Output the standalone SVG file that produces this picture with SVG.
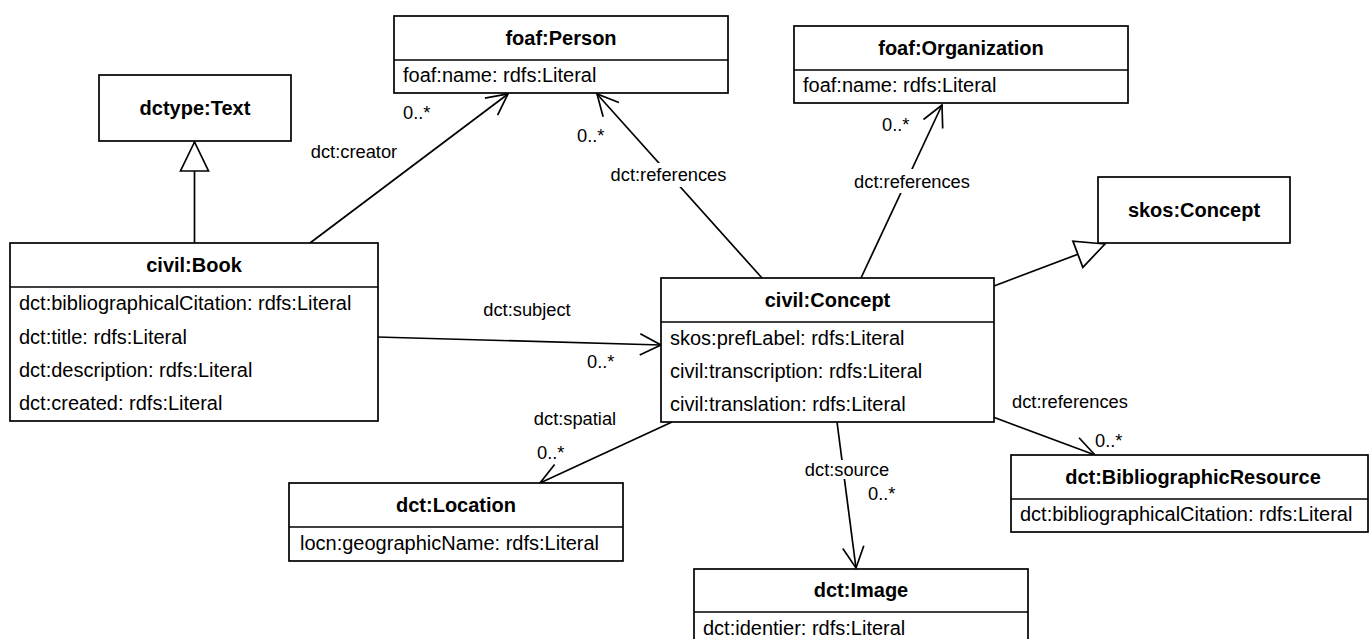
<svg xmlns="http://www.w3.org/2000/svg" width="1369" height="639" viewBox="0 0 1369 639">
<style>
.box{fill:#fff;stroke:#000;stroke-width:1.7}
.sep{stroke:#000;stroke-width:1.7}
.title{font-family:"Liberation Sans",Arial,sans-serif;font-size:20px;font-weight:bold;text-anchor:middle;fill:#000}
.attr{font-family:"Liberation Sans",Arial,sans-serif;font-size:20px;fill:#000}
.lbl{font-family:"Liberation Sans",Arial,sans-serif;font-size:18.3px;fill:#000}
.mid{text-anchor:middle}
.edge{fill:none;stroke:#000;stroke-width:1.7}
.assoc{marker-end:url(#open)}
.gen{marker-end:url(#tri)}
.bg{fill:#fff;stroke:none}
</style>
<defs>
<marker id="open" markerUnits="userSpaceOnUse" markerWidth="30" markerHeight="30" viewBox="-25 -15 30 30" refX="0" refY="0" orient="auto" overflow="visible">
<path d="M-21,-10.6 L0,0 L-21,10.6" fill="none" stroke="#000" stroke-width="1.7"/>
</marker>
<marker id="tri" markerUnits="userSpaceOnUse" markerWidth="40" markerHeight="40" viewBox="-35 -20 40 40" refX="0" refY="0" orient="auto" overflow="visible">
<path d="M0,0 L-29,-14 L-29,14 Z" fill="#fff" stroke="#000" stroke-width="1.7"/>
</marker>
</defs>
<rect width="1369" height="639" fill="#fff"/>

<g id="connectors">
<line class="edge gen" x1="194.5" y1="243" x2="194.5" y2="142"/>
<line class="edge gen" x1="994" y1="286" x2="1105" y2="244"/>
<line class="edge assoc" x1="310" y1="243" x2="508" y2="94"/>
<line class="edge assoc" x1="762" y1="278" x2="597" y2="94"/>
<line class="edge assoc" x1="861" y1="278" x2="942" y2="105"/>
<line class="edge assoc" x1="377" y1="337" x2="661" y2="345"/>
<line class="edge assoc" x1="672" y1="422" x2="540" y2="483"/>
<line class="edge assoc" x1="837" y1="422" x2="856" y2="568"/>
<line class="edge assoc" x1="993" y1="417" x2="1095" y2="455"/>
<rect class="bg" x="609" y="163" width="120" height="24"/>
<rect class="bg" x="853" y="169" width="118" height="24"/>
<rect class="bg" x="803" y="460" width="88" height="19"/>
<text class="lbl mid" x="354" y="158">dct:creator</text>
<text class="lbl" x="403" y="119">0..*</text>
<text class="lbl mid" x="668.5" y="181">dct:references</text>
<text class="lbl" x="577" y="142">0..*</text>
<text class="lbl mid" x="912" y="188">dct:references</text>
<text class="lbl" x="882" y="131">0..*</text>
<text class="lbl mid" x="527" y="316">dct:subject</text>
<text class="lbl" x="587" y="368">0..*</text>
<text class="lbl mid" x="575" y="425">dct:spatial</text>
<text class="lbl" x="537" y="459">0..*</text>
<text class="lbl mid" x="847" y="476">dct:source</text>
<text class="lbl" x="868" y="500">0..*</text>
<text class="lbl" x="1012" y="408">dct:references</text>
<text class="lbl" x="1095" y="447">0..*</text>
</g>

<g id="dctype-Text">
<rect class="box" x="99" y="75" width="192" height="66"/>
<text class="title" x="195" y="115">dctype:Text</text>
</g>

<g id="foaf-Person">
<rect class="box" x="394" y="16" width="334" height="77"/>
<line class="sep" x1="394" y1="60" x2="728" y2="60"/>
<text class="title" x="561" y="44.5">foaf:Person</text>
<text class="attr" x="403" y="82">foaf:name: rdfs:Literal</text>
</g>

<g id="foaf-Organization">
<rect class="box" x="794" y="26" width="334" height="77"/>
<line class="sep" x1="794" y1="70" x2="1128" y2="70"/>
<text class="title" x="961" y="54.5">foaf:Organization</text>
<text class="attr" x="803" y="92">foaf:name: rdfs:Literal</text>
</g>

<g id="skos-Concept">
<rect class="box" x="1098" y="177" width="192" height="66"/>
<text class="title" x="1194" y="216.5">skos:Concept</text>
</g>

<g id="civil-Book">
<rect class="box" x="10" y="243" width="368" height="178"/>
<line class="sep" x1="10" y1="287" x2="378" y2="287"/>
<text class="title" x="194" y="271.5">civil:Book</text>
<text class="attr" x="19" y="310">dct:bibliographicalCitation: rdfs:Literal</text>
<text class="attr" x="19" y="343.5">dct:title: rdfs:Literal</text>
<text class="attr" x="19" y="377">dct:description: rdfs:Literal</text>
<text class="attr" x="19" y="410">dct:created: rdfs:Literal</text>
</g>

<g id="civil-Concept">
<rect class="box" x="661" y="278" width="333" height="144"/>
<line class="sep" x1="661" y1="322" x2="994" y2="322"/>
<text class="title" x="827.5" y="306.5">civil:Concept</text>
<text class="attr" x="670" y="344.5">skos:prefLabel: rdfs:Literal</text>
<text class="attr" x="670" y="378">civil:transcription: rdfs:Literal</text>
<text class="attr" x="670" y="411">civil:translation: rdfs:Literal</text>
</g>

<g id="dct-Location">
<rect class="box" x="289" y="483" width="334" height="78"/>
<line class="sep" x1="289" y1="527" x2="623" y2="527"/>
<text class="title" x="456" y="511.5">dct:Location</text>
<text class="attr" x="300" y="549.5">locn:geographicName: rdfs:Literal</text>
</g>

<g id="dct-BibliographicResource">
<rect class="box" x="1011" y="455" width="357" height="77"/>
<line class="sep" x1="1011" y1="499" x2="1368" y2="499"/>
<text class="title" x="1193" y="483.5">dct:BibliographicResource</text>
<text class="attr" x="1020" y="521">dct:bibliographicalCitation: rdfs:Literal</text>
</g>

<g id="dct-Image">
<rect class="box" x="694" y="569" width="334" height="77"/>
<line class="sep" x1="694" y1="612" x2="1028" y2="612"/>
<text class="title" x="861" y="597">dct:Image</text>
<text class="attr" x="703" y="634.5">dct:identier: rdfs:Literal</text>
</g>
</svg>
